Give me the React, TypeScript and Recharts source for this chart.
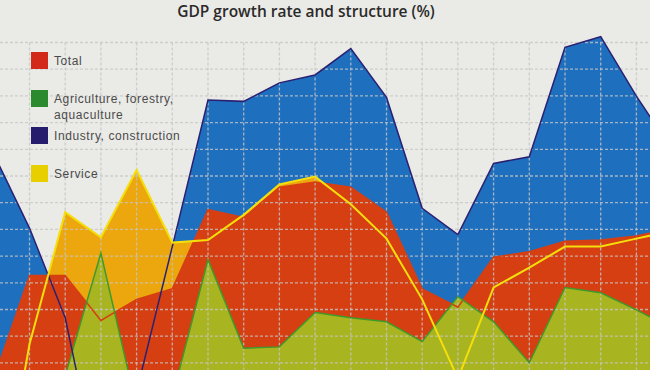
import React from 'react';
import { ComposedChart, Area, Line, XAxis, YAxis, ReferenceLine } from 'recharts';

// Years (categories)
const years = [1986, 1987, 1988, 1989, 1990, 1991, 1992, 1993, 1994, 1995, 1996, 1997, 1998, 1999, 2000, 2001, 2002, 2003, 2004, 2005];

// Growth rates (%)
const total = [2.1, 6.0, 6.0, 4.3, 5.1, 5.5, 8.5, 8.2, 9.35, 9.55, 9.35, 8.4, 5.5, 4.8, 6.7, 6.9, 7.3, 7.35, 7.5, 7.8];
const agriculture = [1.5, 1.0, 2.2, 6.85, 1.0, 1.4, 6.6, 3.25, 3.3, 4.6, 4.4, 4.25, 3.5, 5.2, 4.25, 2.7, 5.55, 5.35, 4.7, 4.0];
const industry = [10.6, 7.8, 4.4, -2.0, 1.6, 7.1, 12.65, 12.6, 13.3, 13.6, 14.6, 12.75, 8.55, 7.55, 10.25, 10.5, 14.65, 15.05, 12.8, 10.75];
const service = [-4.2, 3.4, 8.4, 7.45, 10.0, 7.25, 7.35, 8.3, 9.45, 9.75, 8.7, 7.4, 5.1, 2.1, 5.55, 6.3, 7.1, 7.1, 7.4, 7.7];

// Graph-paper grid (rows on a separate hidden axis, columns at each year)
const gridRows = [0, 1, 2, 3, 4, 5, 6, 7, 8, 9, 10, 11, 12];
const gridCols = years.slice(1, 19);

const title = 'GDP growth rate and structure (%)';
const legendItems = [
  { lines: ['Total'], color: '#d2291b' },
  { lines: ['Agriculture, forestry,', 'aquaculture'], color: '#2b8a2d' },
  { lines: ['Industry, construction'], color: '#251c6e' },
  { lines: ['Service'], color: '#e8d000' },
];

const data = years.map((year, i) => ({
  year,
  total: total[i],
  agriculture: agriculture[i],
  industry: industry[i],
  service: service[i],
}));

const X_DOMAIN: [number, number] = [1986.1737, 2004.381];
const Y_DOMAIN: [number, number] = [2.424, 16.44];
const G_DOMAIN: [number, number] = [-1.592, 12.266];

const GRID_STROKE = '#c6c6c6';

export default function App() {
  return (
    <div
      style={{
        position: 'absolute',
        left: 0,
        top: 0,
        width: 650,
        height: 370,
        overflow: 'hidden',
        background: '#eaeae7',
        fontFamily: '"Liberation Sans", Arial, sans-serif',
      }}
    >
      <ComposedChart width={650} height={370} data={data} margin={{ top: 0, right: 0, bottom: 0, left: 0 }}>
        <XAxis type="number" dataKey="year" domain={X_DOMAIN} allowDataOverflow hide />
        <YAxis yAxisId="v" type="number" domain={Y_DOMAIN} allowDataOverflow hide />
        <YAxis yAxisId="grid" type="number" domain={G_DOMAIN} reversed allowDataOverflow hide />

        <Area yAxisId="v" type="linear" dataKey="industry" fill="#1f6fbf" fillOpacity={1} stroke="none" dot={false} activeDot={false} isAnimationActive={false} />
        <Area yAxisId="v" type="linear" dataKey="service" fill="#eba70d" fillOpacity={1} stroke="none" dot={false} activeDot={false} isAnimationActive={false} />
        <Area yAxisId="v" type="linear" dataKey="total" fill="#d63f12" fillOpacity={1} stroke="none" dot={false} activeDot={false} isAnimationActive={false} />
        <Area yAxisId="v" type="linear" dataKey="agriculture" fill="#a8b520" fillOpacity={1} stroke="none" dot={false} activeDot={false} isAnimationActive={false} />

        {gridRows.map((g) => (
          <ReferenceLine key={'r' + g} yAxisId="grid" y={g} stroke={GRID_STROKE} strokeOpacity={0.8} strokeWidth={1.3} strokeDasharray="3 2" />
        ))}
        {gridCols.map((yr) => (
          <ReferenceLine
            key={'c' + yr}
            yAxisId="grid"
            segment={[{ x: yr, y: 0 }, { x: yr, y: G_DOMAIN[1] }]}
            stroke={GRID_STROKE}
            strokeOpacity={0.8}
            strokeWidth={1.3}
            strokeDasharray="3 2"
          />
        ))}

        <Line yAxisId="v" type="linear" dataKey="total" stroke="#d63f12" strokeWidth={1.5} dot={false} activeDot={false} isAnimationActive={false} />
        <Line yAxisId="v" type="linear" dataKey="agriculture" stroke="#3e9a2c" strokeWidth={1.5} dot={false} activeDot={false} isAnimationActive={false} />
        <Line yAxisId="v" type="linear" dataKey="industry" stroke="#2a2172" strokeWidth={1.5} dot={false} activeDot={false} isAnimationActive={false} />
        <Line yAxisId="v" type="linear" dataKey="service" stroke="#f4df0c" strokeWidth={2} dot={false} activeDot={false} isAnimationActive={false} />
      </ComposedChart>

      <div
        style={{
          position: 'absolute',
          left: 0,
          top: 2,
          width: 612,
          textAlign: 'center',
          fontFamily: '"Open Sans", sans-serif',
          fontWeight: 600,
          fontSize: 15.5,
          lineHeight: '19px',
          color: '#2a2a2a',
        }}
      >
        {title}
      </div>

      <div style={{ position: 'absolute', left: 31, top: 52 }}>
        {legendItems.map((it) => (
          <div key={it.lines[0]} style={{ position: 'relative', height: 37.7 }}>
            <div style={{ position: 'absolute', left: 0, top: 0, width: 17, height: 17, background: it.color }} />
            <div
              style={{
                position: 'absolute',
                left: 23,
                top: 1,
                fontSize: 12,
                letterSpacing: 0.6,
                lineHeight: '16px',
                color: '#4a4a4a',
                whiteSpace: 'nowrap',
              }}
            >
              {it.lines.map((l) => (
                <div key={l}>{l}</div>
              ))}
            </div>
          </div>
        ))}
      </div>
    </div>
  );
}
